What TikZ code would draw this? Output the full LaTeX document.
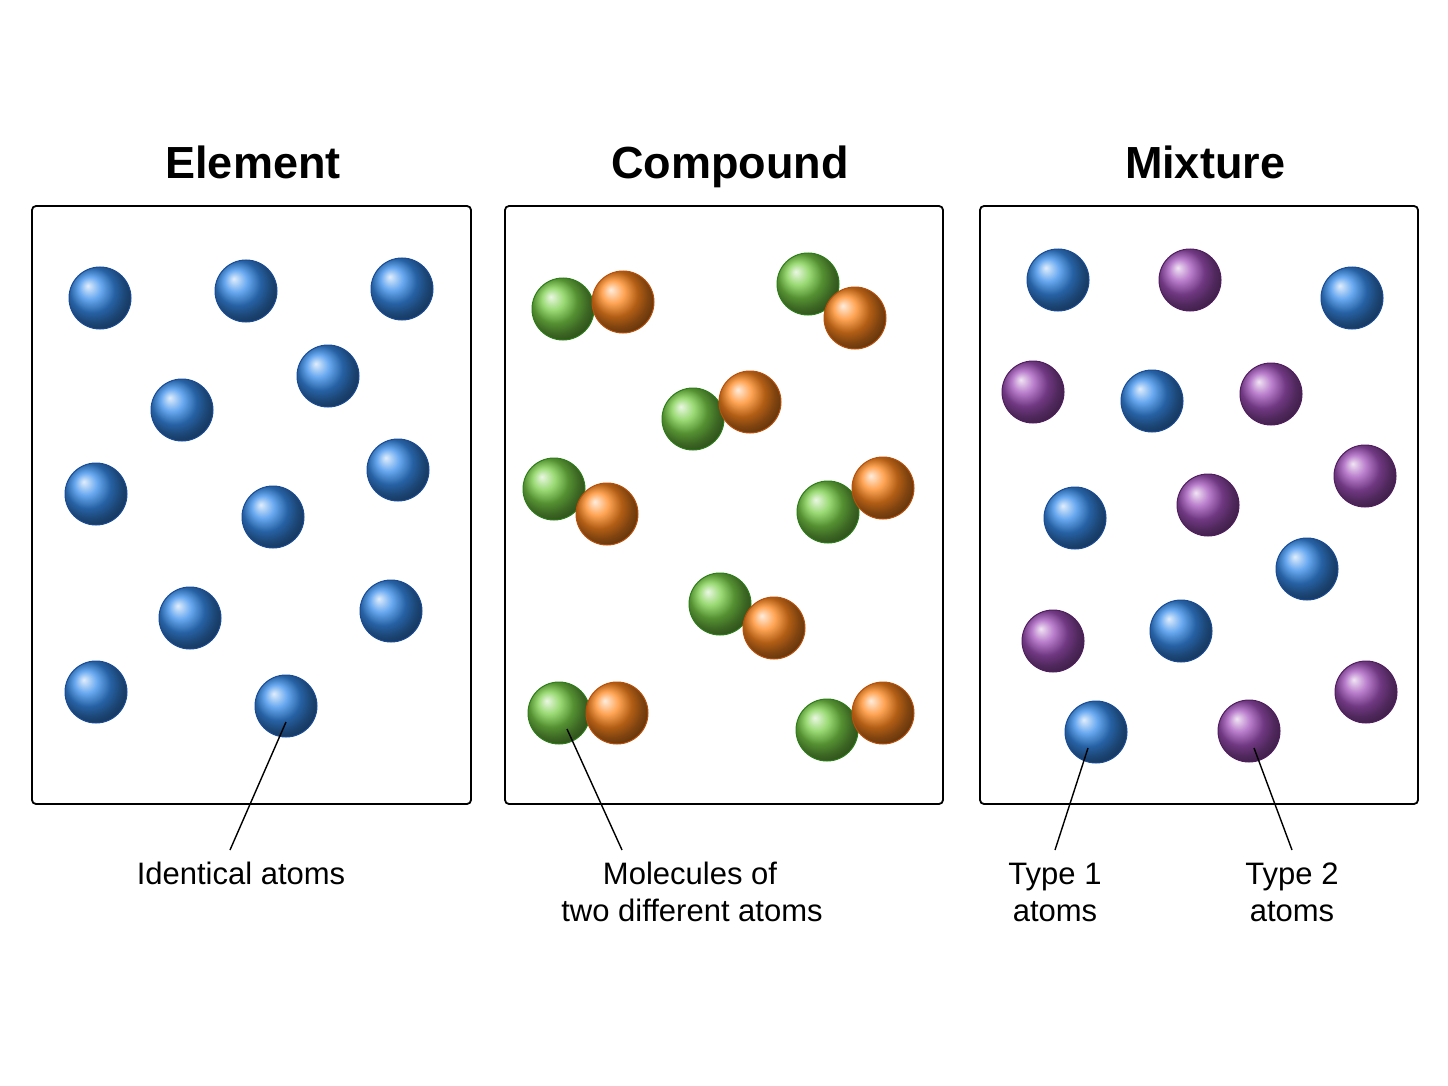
\documentclass[tikz,border=0pt]{standalone}
\usepackage{fontspec}
\setmainfont{Liberation Sans}
\definecolor{cB}{RGB}{55,140,235}
\definecolor{cP}{RGB}{160,80,185}
\definecolor{cG}{RGB}{120,205,70}
\definecolor{cO}{RGB}{255,135,30}
\definecolor{dB}{RGB}{25,75,150}
\definecolor{dP}{RGB}{80,30,95}
\definecolor{dG}{RGB}{45,125,25}
\definecolor{dO}{RGB}{185,80,10}
\begin{document}
\begin{tikzpicture}[x=1pt,y=-1pt,
 atom/.style 2 args={circle,minimum size=62pt,inner sep=0pt,shading=ball,ball color=#1,draw=#2,line width=1pt},
 atB/.style={atom={cB}{dB}},
 atP/.style={atom={cP}{dP}},
 atG/.style={atom={cG}{dG}},
 atO/.style={atom={cO}{dO}},
 box/.style={draw,line width=1.8pt,rounded corners=4pt},
 title/.style={font=\fontsize{45}{50}\selectfont\bfseries,anchor=base},
 lab/.style={font=\fontsize{31}{37}\selectfont,align=center,anchor=base},
 ptr/.style={line width=1.4pt}]
\useasboundingbox (0,0) rectangle (1448,1086);
\fill[white] (0,0) rectangle (1448,1086);
\draw[box] (32,206) rectangle (471,804);
\draw[box] (505,206) rectangle (943,804);
\draw[box] (980,206) rectangle (1418,804);
\node[title] (t1) at (253,179) {Element};
\node[title] (t2) at (730,179) {Compound};
\node[title] (t3) at (1205,179) {Mixture};
\foreach \p [count=\i] in {(100,298),(246,291),(402,289),(182,410),(328,376),(96,494),(273,517),(398,470),(190,618),(391,611),(96,692),(286,706)}
 \node[atB] (e\i) at \p {};
\foreach \g/\o [count=\i] in {{(563,309)}/{(623,302)},{(808,284)}/{(855,318)},{(693,419)}/{(750,402)},{(554,489)}/{(607,514)},{(828,512)}/{(883,488)},{(720,604)}/{(774,628)},{(559,713)}/{(617,713)},{(827,730)}/{(883,713)}}
 {\node[atG] (g\i) at \g {}; \node[atO] (o\i) at \o {};}
\foreach \p [count=\i] in {(1058,280),(1352,298),(1152,401),(1075,518),(1307,569),(1181,631),(1096,732)}
 \node[atB] (b\i) at \p {};
\foreach \p [count=\i] in {(1190,280),(1033,392),(1271,394),(1365,476),(1208,505),(1053,641),(1366,692),(1249,731)}
 \node[atP] (p\i) at \p {};
\node[lab] (l1) at (241,884) {Identical atoms};
\node[lab] (l2a) at (690,884) {Molecules of};
\node[lab] (l2b) at (692,921) {two different atoms};
\node[lab] (l3a) at (1055,884) {Type 1};
\node[lab] (l3b) at (1055,921) {atoms};
\node[lab] (l4a) at (1292,884) {Type 2};
\node[lab] (l4b) at (1292,921) {atoms};
\coordinate (c1) at (230,850);
\coordinate (c2) at (622,850);
\coordinate (c3) at (1055,850);
\coordinate (c4) at (1292,850);
\draw[ptr] (e12.center) ++(0,16) -- (c1);
\draw[ptr] (g7.center) ++(8,16) -- (c2);
\draw[ptr] (b7.center) ++(-8,16) -- (c3);
\draw[ptr] (p8.center) ++(5,17) -- (c4);
\end{tikzpicture}
\end{document}
